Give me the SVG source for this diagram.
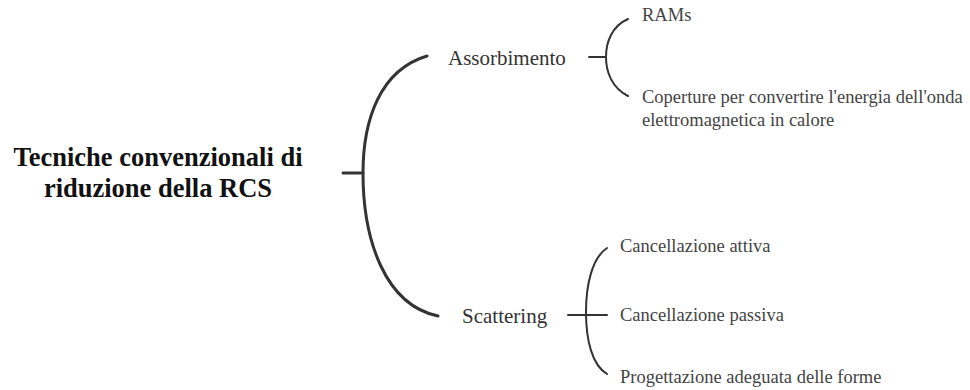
<svg xmlns="http://www.w3.org/2000/svg" width="970" height="390" viewBox="0 0 970 390">
<style>
.root{font-family:"Liberation Serif","Times New Roman",serif;font-size:26.5px;font-weight:bold;fill:#111;text-anchor:middle}
.l1{font-family:"Liberation Serif","Times New Roman",serif;font-size:21px;fill:#333}
.l2{font-family:"Liberation Serif","Times New Roman",serif;font-size:18.5px;fill:#444}
.br{fill:none;stroke:#333;stroke-linecap:round}
.big{stroke-width:3}
.sm{stroke-width:2}
</style>
<rect width="970" height="390" fill="#fff"/>
<g id="connectors">
<path class="br big" d="M343,173 H363"/>
<path class="br big" d="M427,56 C380,70 363,120 363,173 C363,240 385,305 438,316"/>
<path class="br sm" d="M589,57 H606"/>
<path class="br sm" d="M628,19 C612,26 606,42 606,57 C606,72 612,88 628,96"/>
<path class="br sm" d="M568,315 H607"/>
<path class="br sm" d="M607,248 C592,258 586,285 586,312 C586,340 592,365 607,374"/>
</g>
<g id="root">
<text class="root" x="158" y="166">Tecniche convenzionali di</text>
<text class="root" x="158" y="197">riduzione della RCS</text>
</g>
<g id="assorbimento">
<text class="l1" x="448" y="65">Assorbimento</text>
</g>
<g id="scattering">
<text class="l1" x="462" y="323">Scattering</text>
</g>
<g id="rams">
<text class="l2" x="642" y="21">RAMs</text>
</g>
<g id="coperture">
<text class="l2" x="642" y="103">Coperture per convertire l'energia dell'onda</text>
<text class="l2" x="642" y="126">elettromagnetica in calore</text>
</g>
<g id="canc-attiva">
<text class="l2" x="620" y="252">Cancellazione attiva</text>
</g>
<g id="canc-passiva">
<text class="l2" x="620" y="321">Cancellazione passiva</text>
</g>
<g id="progettazione">
<text class="l2" x="620" y="383">Progettazione adeguata delle forme</text>
</g>
</svg>
